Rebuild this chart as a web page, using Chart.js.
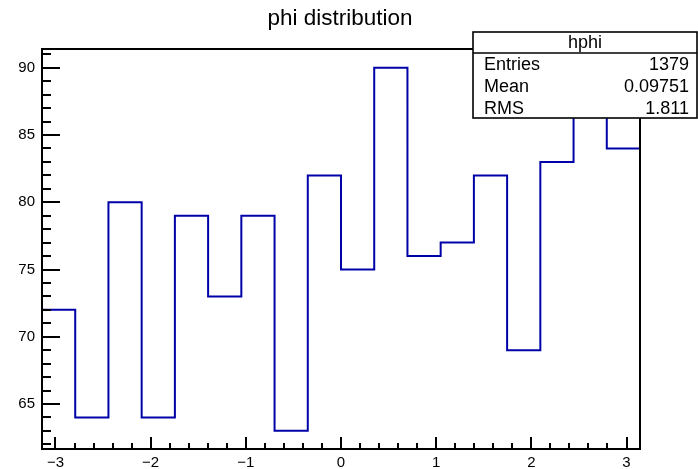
<!DOCTYPE html>
<html>
<head>
<meta charset="utf-8">
<script src="https://cdn.jsdelivr.net/npm/chart.js@4.4.1/dist/chart.umd.min.js"></script>
<style>
    html, body { margin: 0; padding: 0; background: #fff; }
    #wrap { width: 698px; height: 469px; }
</style>
</head>
<body>
<div id="wrap"><canvas id="hist"></canvas></div>
<script>
// phi histogram, 18 bins over [-pi, pi]
const counts = [72, 64, 80, 64, 79, 73, 79, 63, 82, 75, 90, 76, 77, 82, 69, 83, 87, 84];
const xTicks = [-3, -2, -1, 0, 1, 2, 3];
const yTicks = [65, 70, 75, 80, 85, 90];
const histName = 'hphi';
const histTitle = 'phi distribution';
const statLabels = ['Entries', 'Mean', 'RMS'];
const statValues = ['1379', '0.09751', '1.811'];

const xMin = -Math.PI;
const xMax = Math.PI;
const binWidth = (xMax - xMin) / counts.length;
const yMin = 61.65;
const yMax = 91.4;

const FONT = '"Liberation Sans", Arial, Helvetica, sans-serif';
const LINE_COLOR = '#0000a8';

// step outline: one point per bin low edge, plus the upper edge of the last bin
const points = counts.map((c, i) => ({ x: xMin + i * binWidth, y: c }));
points.push({ x: xMax, y: counts[counts.length - 1] });

function fmtTick(v) {
    return v < 0 ? '\u2212' + Math.abs(v) : String(v);
}

// frame, inward ticks, title and the stats box
const rootPad = {
    id: 'rootPad',
    afterDatasetsDraw(chart) {
        const { ctx, chartArea: a, scales: { x, y } } = chart;
        ctx.save();
        ctx.strokeStyle = '#000';
        ctx.lineWidth = 2;
        ctx.strokeRect(a.left, a.top, a.right - a.left, a.bottom - a.top);

        ctx.beginPath();
        for (let v = Math.ceil(y.min); v <= y.max; v++) {
            const py = Math.round(y.getPixelForValue(v));
            const len = v % 5 === 0 ? 18 : 9;
            ctx.moveTo(a.left, py);
            ctx.lineTo(a.left + len, py);
        }
        for (let k = Math.ceil(x.min * 5); k <= Math.floor(x.max * 5); k++) {
            const px = Math.round(x.getPixelForValue(k / 5));
            const len = k % 5 === 0 ? 12 : 6;
            ctx.moveTo(px, a.bottom);
            ctx.lineTo(px, a.bottom - len);
        }
        ctx.stroke();

        // title
        ctx.fillStyle = '#000';
        ctx.font = '22.5px ' + FONT;
        ctx.textAlign = 'center';
        ctx.textBaseline = 'alphabetic';
        ctx.fillText(histTitle, 340, 25);

        // stats box
        const bx = 473, by = 32, bw = 224, bh = 86, head = 21;
        ctx.fillStyle = '#fff';
        ctx.fillRect(bx, by, bw, bh);
        ctx.lineWidth = 1.6;
        ctx.strokeRect(bx, by, bw, bh);
        ctx.beginPath();
        ctx.moveTo(bx, by + head);
        ctx.lineTo(bx + bw, by + head);
        ctx.stroke();

        ctx.fillStyle = '#000';
        ctx.font = '18px ' + FONT;
        ctx.textAlign = 'center';
        ctx.fillText(histName, bx + bw / 2, by + head - 5);
        const rowH = (bh - head) / statLabels.length;
        statLabels.forEach((label, i) => {
            const base = by + head + rowH * (i + 1) - 4.5;
            ctx.textAlign = 'left';
            ctx.fillText(label, bx + 11, base);
            ctx.textAlign = 'right';
            ctx.fillText(statValues[i], bx + bw - 8, base);
        });
        ctx.restore();
    }
};

new Chart(document.getElementById('hist'), {
    type: 'line',
    data: {
        datasets: [{
            data: points,
            stepped: 'before',
            borderColor: LINE_COLOR,
            borderWidth: 2,
            pointRadius: 0,
            fill: false
        }]
    },
    options: {
        responsive: true,
        maintainAspectRatio: false,
        animation: false,
        layout: { padding: { top: 49, right: 58, left: 0, bottom: 0 } },
        plugins: {
            legend: { display: false },
            tooltip: { enabled: false },
            title: { display: false }
        },
        scales: {
            x: {
                type: 'linear',
                min: xMin,
                max: xMax,
                grid: { display: false, drawTicks: false },
                border: { display: false },
                afterBuildTicks: scale => { scale.ticks = xTicks.map(v => ({ value: v })); },
                afterFit: scale => { scale.height = 20; },
                ticks: {
                    autoSkip: false,
                    maxRotation: 0,
                    padding: 5,
                    color: '#000',
                    font: { family: FONT, size: 15 },
                    callback: v => fmtTick(v)
                }
            },
            y: {
                min: yMin,
                max: yMax,
                grid: { display: false, drawTicks: false },
                border: { display: false },
                afterBuildTicks: scale => { scale.ticks = yTicks.map(v => ({ value: v })); },
                afterFit: scale => { scale.width = 42; },
                ticks: {
                    autoSkip: false,
                    padding: 7,
                    color: '#000',
                    font: { family: FONT, size: 15 },
                    callback: v => fmtTick(v)
                }
            }
        }
    },
    plugins: [rootPad]
});
</script>
</body>
</html>
